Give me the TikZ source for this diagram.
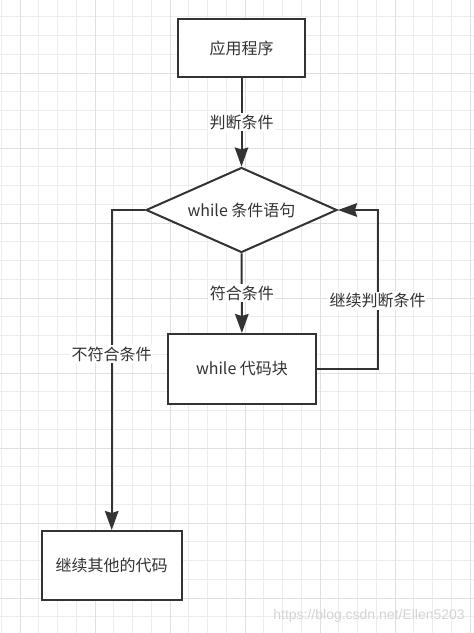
\documentclass[tikz,border=0pt]{standalone}
\usepackage{fontspec}
\usepackage{xcolor}
\usepackage{tikz}
\usetikzlibrary{calc, shapes.geometric, positioning, arrows.meta}
\newfontfamily\cjk{Noto Sans CJK SC}
\newfontfamily\wmfont{Liberation Sans}
\definecolor{net}{HTML}{333333}
\definecolor{luoiphu}{HTML}{EDEDED}
\definecolor{luoichinh}{HTML}{E0E0E0}
\definecolor{mo}{HTML}{D4D4D4}
\tikzset{
    box/.style={rectangle, draw=net, line width=2pt, fill=white, inner sep=0pt,
        text=net, font=\cjk\fontsize{16}{18}\selectfont},
    decision/.style={diamond, draw=net, line width=2pt, fill=white, inner sep=0pt,
        aspect=2.2, text=net, font=\cjk\fontsize{16}{18}\selectfont},
    lbl/.style={fill=white, inner sep=1.5pt, text=net,
        font=\cjk\fontsize{16}{18}\selectfont},
    link/.style={->, draw=net, line width=2pt},
}

\begin{document}
\begin{tikzpicture}[x=1pt, y=-1pt, >={Stealth[length=19pt, width=13.5pt, inset=2pt]}]
    % Nền và lưới
    \fill[white] (0,0) rectangle (474,633);
    \useasboundingbox (0,0) rectangle (474,633);
    \foreach \k in {0,...,25}
        \draw[luoiphu, line width=0.8pt] ({1.25+18.75*\k},0) -- ({1.25+18.75*\k},633);
    \foreach \k in {1,...,33}
        \draw[luoiphu, line width=0.8pt] (0,{-2+18.75*\k}) -- (474,{-2+18.75*\k});
    \foreach \k in {0,...,6}
        \draw[luoichinh, line width=1pt] ({20+75*\k},0) -- ({20+75*\k},633);
    \foreach \k in {0,...,7}
        \draw[luoichinh, line width=1pt] (0,{73+75*\k}) -- (474,{73+75*\k});

    % Các khối
    \node[box, minimum width=127pt, minimum height=58pt] (app) at (241.5,48) {应用程序};
    \node[decision, minimum width=191pt, minimum height=85pt] (cond) at (241.5,210) {while 条件语句};
    \node[box, minimum width=148pt, minimum height=70pt] (body) at (242,369) {while 代码块};
    \node[box, minimum width=140pt, minimum height=69pt] (rest) at (111.7,565.5) {继续其他的代码};

    % Mũi tên
    \draw[link] (app) -- node[lbl] {判断条件} (cond);
    \draw[link] (cond) -- node[lbl] {符合条件} (body);
    \draw[link] (body.east) -- ++(60.5,0) coordinate (turn)
        -- node[lbl, pos=0.43] {继续判断条件} (turn |- cond.east) -- (cond.east);
    \draw[link] (cond.west) -- (cond.west -| rest.north)
        -- node[lbl, pos=0.45] {不符合条件} (rest.north);

    % Chữ mờ
    \node[anchor=base east, inner sep=0pt, text=mo, font=\wmfont\fontsize{14}{16}\selectfont]
        (wm) at (465,619) {https://blog.csdn.net/Ellen5203};
\end{tikzpicture}
\end{document}
